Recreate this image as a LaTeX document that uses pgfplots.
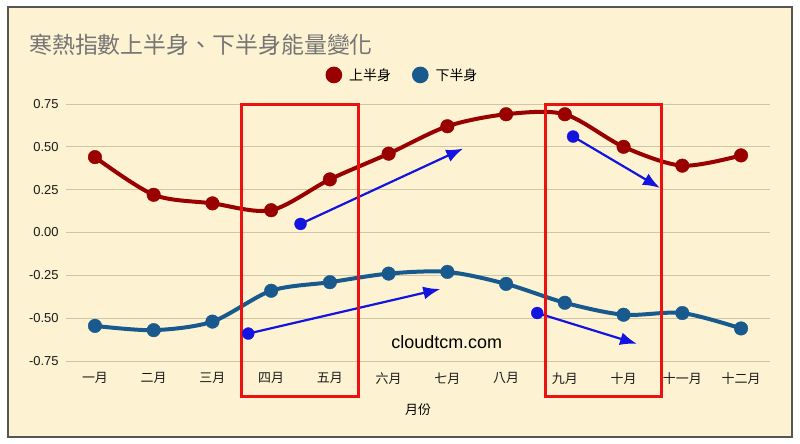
\documentclass[border=0pt]{standalone}
\usepackage{fontspec}
\setmainfont{Liberation Sans}
\newfontfamily\cjk{Noto Sans CJK TC}
\usepackage{pgfplots}
\pgfplotsset{compat=1.18}
\usetikzlibrary{arrows.meta}

\definecolor{panel}{HTML}{FDF3D3}
\definecolor{frame}{HTML}{555555}
\definecolor{gridc}{HTML}{CFC6A6}
\definecolor{upper}{HTML}{990000}
\definecolor{lower}{HTML}{185A8D}
\definecolor{arrowc}{HTML}{1414E0}
\definecolor{boxc}{HTML}{EE1111}
\definecolor{titlec}{HTML}{757575}

\begin{document}
\begin{tikzpicture}
\useasboundingbox (0,0) rectangle (800bp,444bp);
\fill[white] (0,0) rectangle (800bp,444bp);
\draw[fill=panel, draw=frame, line width=2bp] (8bp,7bp) rectangle (792bp,437bp);

% title
\node[anchor=west, inner sep=0pt, text=titlec, font=\cjk\fontsize{23}{26}\selectfont]
  at (29bp,399bp) {寒熱指數上半身、下半身能量變化};

\begin{axis}[
    at={(65.6bp,83bp)}, anchor=south west,
    scale only axis,
    width=704.8bp, height=257bp,
    xmin=-0.5, xmax=11.5,
    ymin=-0.75, ymax=0.75,
    clip=false,
    axis line style={draw=none},
    tick style={draw=none},
    xtick={0,...,11},
    xticklabels={一月,二月,三月,四月,五月,六月,七月,八月,九月,十月,十一月,十二月},
    xticklabel style={font=\cjk\fontsize{13}{15}\selectfont, yshift=-8bp, text=black!90},
    ytick={-0.75,-0.5,-0.25,0.25,0.5,0.75},
    extra y ticks={0},
    extra y tick style={grid style={black, line width=0.8bp}},
    yticklabel style={font=\fontsize{13}{15}\selectfont, xshift=-3.5bp, text=black!90},
    /pgf/number format/assume math mode=true,
    /pgf/number format/.cd, fixed, fixed zerofill, precision=2,
    /pgfplots/.cd,
    ymajorgrids,
    major grid style={gridc, line width=0.8bp},
    legend columns=2,
    legend style={at={(0.478,1.113)}, anchor=center, draw=none, fill=none,
      font=\cjk\fontsize{14}{16}\selectfont,
      /tikz/every odd column/.append style={column sep=5bp},
      /tikz/every even column/.append style={column sep=19bp}},
]

\addplot[upper, line width=4bp, smooth, tension=0.5, mark=*, mark size=6.8bp,
  mark options={solid, line width=0.4bp, fill=upper},
  legend image code/.code={\fill[upper] (0bp,0bp) circle (6.3bp);}]
  coordinates {
  (0,0.44) (1,0.22) (2,0.17) (3,0.13) (4,0.31) (5,0.46)
  (6,0.62) (7,0.69) (8,0.69) (9,0.50) (10,0.39) (11,0.45)
  };
\addlegendentry{上半身}

\addplot[lower, line width=4bp, smooth, tension=0.5, mark=*, mark size=6.8bp,
  mark options={solid, line width=0.4bp, fill=lower},
  legend image code/.code={\fill[lower] (0bp,0bp) circle (6.3bp);}]
  coordinates {
  (0,-0.545) (1,-0.57) (2,-0.52) (3,-0.34) (4,-0.29) (5,-0.24)
  (6,-0.23) (7,-0.30) (8,-0.41) (9,-0.48) (10,-0.47) (11,-0.56)
  };
\addlegendentry{下半身}

% blue trend arrows
\pgfplotsset{trend/.style={forget plot, arrowc, line width=2.2bp,
  -{Latex[length=17bp,width=13bp]}, mark=*, mark indices={1}, mark size=6bp,
  mark options={solid, arrows=-, line width=0.3bp, fill=arrowc}}}
\addplot[trend] coordinates {(3.50,0.05) (6.27,0.49)};
\addplot[trend] coordinates {(8.14,0.56) (9.62,0.26)};
\addplot[trend] coordinates {(2.61,-0.59) (5.88,-0.33)};
\addplot[trend] coordinates {(7.53,-0.47) (9.23,-0.65)};

% watermark
\node[font=\fontsize{18}{20}\selectfont] at (axis cs:5.99,-0.64) {cloudtcm.com};

% highlight boxes
\draw[boxc, line width=3bp] (axis cs:2.50,0.745) rectangle (axis cs:4.48,-0.958);
\draw[boxc, line width=3bp] (axis cs:7.67,0.745) rectangle (axis cs:9.64,-0.958);

\end{axis}

% x label
\node[font=\cjk\fontsize{13}{15}\selectfont] at (418bp,34bp) {月份};
\end{tikzpicture}
\end{document}
